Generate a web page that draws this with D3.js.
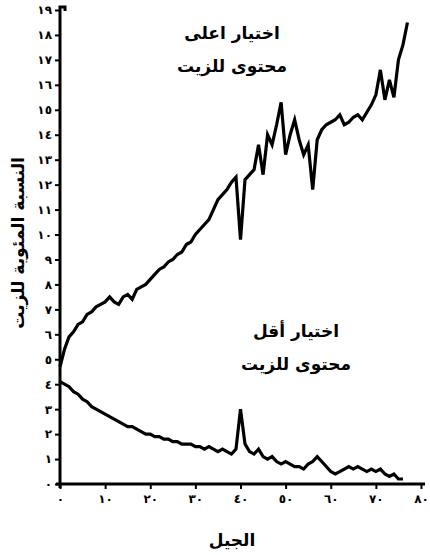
<!DOCTYPE html>
<html>
<head>
<meta charset="utf-8">
<script src="https://cdn.jsdelivr.net/npm/d3@7"></script>
<style>
  body { margin: 0; background: #fff; }
  svg text { font-family: "DejaVu Sans", sans-serif; font-weight: bold; fill: #000; }
</style>
</head>
<body>
<div id="chart"></div>
<script>
// oil content (%) per generation, reading from the figure
var highOil = [4.7, 5.4, 5.9, 6.1, 6.4, 6.5, 6.8, 6.9, 7.1, 7.2,
  7.3, 7.5, 7.3, 7.2, 7.5, 7.6, 7.4, 7.8, 7.9, 8.0,
  8.2, 8.4, 8.6, 8.7, 8.9, 9.0, 9.2, 9.3, 9.6, 9.7,
  10.0, 10.2, 10.4, 10.6, 11.0, 11.4, 11.6, 11.8, 12.1, 12.3,
  9.8, 12.2, 12.4, 12.6, 13.6, 12.4, 14.0, 13.6, 14.4, 15.3,
  13.2, 14.0, 14.6, 13.8, 13.2, 13.6, 11.8, 13.8, 14.2, 14.4,
  14.5, 14.6, 14.8, 14.4, 14.5, 14.7, 14.8, 14.6, 14.9, 15.2,
  15.6, 16.6, 15.4, 16.2, 15.5, 17.0, 17.6, 18.5];
var lowOil = [4.1, 4.0, 3.9, 3.7, 3.6, 3.4, 3.3, 3.1, 3.0, 2.9,
  2.8, 2.7, 2.6, 2.5, 2.4, 2.3, 2.3, 2.2, 2.1, 2.0,
  2.0, 1.9, 1.9, 1.8, 1.8, 1.7, 1.7, 1.6, 1.6, 1.6,
  1.5, 1.5, 1.4, 1.5, 1.4, 1.3, 1.4, 1.3, 1.2, 1.4,
  3.0, 1.6, 1.3, 1.2, 1.4, 1.1, 1.0, 1.1, 0.9, 0.8,
  0.9, 0.8, 0.7, 0.7, 0.6, 0.8, 0.9, 1.1, 0.9, 0.7,
  0.5, 0.4, 0.5, 0.6, 0.7, 0.6, 0.7, 0.6, 0.5, 0.6,
  0.5, 0.6, 0.4, 0.3, 0.4, 0.2, 0.2];
var xTicks = [0, 10, 20, 30, 40, 50, 60, 70, 80];
var yTicks = d3.range(0, 20);
var labels = {
  high: ['اختيار اعلى', 'محتوى للزيت'],
  low: ['اختيار أقل', 'محتوى للزيت'],
  x: 'الجيل',
  y: 'النسبة المئوية للزيت'
};

var width = 430, height = 555;
var x0 = 60, x1 = 421, yBase = 484, yTop = 10;

var digits = '٠١٢٣٤٥٦٧٨٩';
function arabicNum(n) {
  return String(n).replace(/\d/g, function (c) { return digits[+c]; });
}

var svg = d3.select('#chart').append('svg')
  .attr('width', width).attr('height', height);

var x = d3.scaleLinear().domain([0, 80]).range([x0, x1]);
var y = d3.scaleLinear().domain([0, 19]).range([yBase, yTop]);

// axes
var xAxis = svg.append('g')
  .attr('transform', 'translate(0,' + yBase + ')')
  .call(d3.axisBottom(x).tickValues(xTicks).tickSize(5).tickSizeOuter(0).tickPadding(5)
    .tickFormat(arabicNum));
xAxis.select('.domain').attr('stroke', '#000').attr('stroke-width', 3)
  .attr('d', 'M' + (x0 - 4) + ',0H' + (x1 + 4));
xAxis.selectAll('.tick line').attr('stroke', '#000').attr('stroke-width', 2);
xAxis.selectAll('.tick text').style('font-size', '12px');

var yAxis = svg.append('g')
  .attr('transform', 'translate(' + x0 + ',0)')
  .call(d3.axisLeft(y).tickValues(yTicks).tickSize(5).tickSizeOuter(0).tickPadding(3)
    .tickFormat(arabicNum));
yAxis.select('.domain').attr('stroke', '#000').attr('stroke-width', 3)
  .attr('d', 'M0,' + (yBase + 4) + 'V' + (yTop - 3) + 'h5v4');
yAxis.selectAll('.tick line').attr('stroke', '#000').attr('stroke-width', 2);
yAxis.selectAll('.tick text').style('font-size', '12px');

// series lines
var line = d3.line()
  .x(function (d, i) { return x(i); })
  .y(function (d) { return y(d); });

[highOil, lowOil].forEach(function (s) {
  svg.append('path')
    .datum(s)
    .attr('d', line)
    .attr('fill', 'none')
    .attr('stroke', '#000')
    .attr('stroke-width', 3.2)
    .attr('stroke-linejoin', 'miter');
});

// annotations
function block(lines, cx, cy) {
  lines.forEach(function (t, i) {
    svg.append('text')
      .attr('x', cx).attr('y', cy + i * 33)
      .attr('text-anchor', 'middle')
      .attr('direction', 'rtl')
      .style('font-size', '17px')
      .text(t);
  });
}
block(labels.high, 232, 39);
block(labels.low, 296, 337);

svg.append('text')
  .attr('x', 232).attr('y', 546)
  .attr('text-anchor', 'middle')
  .attr('direction', 'rtl')
  .style('font-size', '17px')
  .text(labels.x);

svg.append('text')
  .attr('transform', 'translate(24,243)rotate(-90)')
  .attr('text-anchor', 'middle')
  .attr('direction', 'rtl')
  .style('font-size', '17px')
  .text(labels.y);
</script>
</body>
</html>
